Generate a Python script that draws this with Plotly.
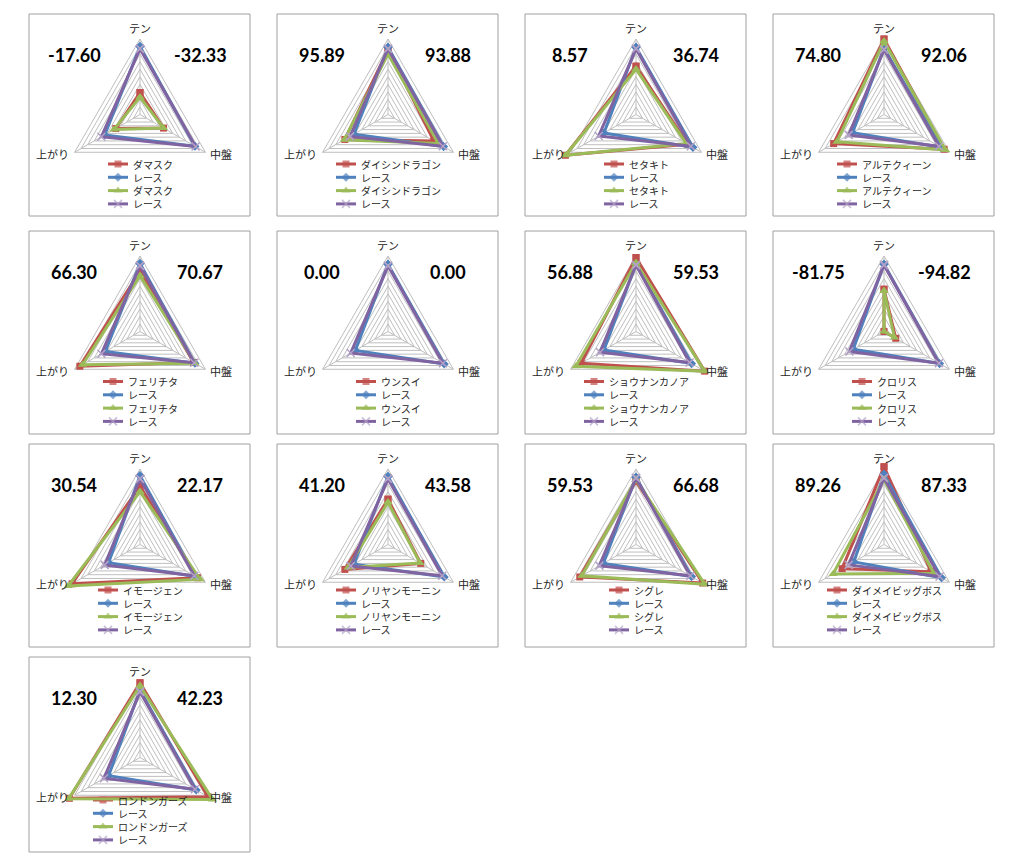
import plotly.graph_objects as go

W, H = 1024, 866

# ---------------- data ----------------
CATEGORIES = ["テン", "中盤", "上がり"]
RACE_LABEL = "レース"
HORSES = ["ダマスク", "ダイシンドラゴン", "セタキト", "アルテクィーン",
          "フェリチタ", "ウンスイ", "ショウナンカノア", "クロリス",
          "イモージェン", "ノリヤンモーニン", "シグレ", "ダイメイビッグボス",
          "ロンドンガーズ"]
LEFT_VALUES = ["-17.60", "95.89", "8.57", "74.80", "66.30", "0.00", "56.88",
               "-81.75", "30.54", "41.20", "59.53", "89.26", "12.30"]
RIGHT_VALUES = ["-32.33", "93.88", "36.74", "92.06", "70.67", "0.00", "59.53",
                "-94.82", "22.17", "43.58", "66.68", "87.33", "42.23"]
# values per panel: [テン, 中盤, 上がり]
HORSE_A = [[29, 36, 37], [86, 70, 66], [64, 79, 108], [100, 92, 77],
           [80, 82, 92], [None, None, None], [98, 105, 84], [56, 18, -17],
           [77, 88, 104], [60, 50, 66], [84, 102, 86], [103, 72, 64],
           [99, 104, 108]]
RACE_A = [[90, 84, 54], [89, 85, 52], [89, 87, 49], [88, 87, 48],
          [90, 84, 53], [89, 86, 50], [89, 85, 49], [89, 85, 47],
          [91, 85, 48], [90, 86, 52], [89, 85, 50], [93, 88, 46],
          [89, 86, 48]]
HORSE_B = [[23, 36, 40], [80, 77, 67], [60, 77, 108], [97, 94, 72],
           [74, 84, 88], [None, None, None], [91, 105, 92], [54, 16, -14],
           [70, 92, 110], [56, 49, 61], [86, 105, 83], [86, 76, 78],
           [95, 111, 109]]
RACE_B = [[87, 85, 59], [87, 84, 58], [87, 84, 57], [86, 84, 54],
          [87, 83, 59], [87, 84, 57], [88, 82, 55], [88, 84, 53],
          [87, 83, 54], [87, 83, 57], [88, 83, 56], [88, 85, 54],
          [87, 84, 55]]

# ---------------- style / layout constants ----------------
AX_MAX = 100
RMAX = 115
R100_PX = 75.5
RD = R100_PX * RMAX / AX_MAX
GRID = "#BFBFBF"
COL_X = [29, 277, 525, 773]
ROW_Y = [14, 231, 444, 657]
BOX_W = 221
BOX_H = [202, 203, 203, 195]
CX_REL, CY_REL = 111, 100.5
LEG_TOP = [150, 150.5, 146, 143]
LEG_STEP = 13.3
LEG_FS = 10
FONT = "Noto Sans CJK JP"

STYLES = [
    dict(color="#C0504D", symbol="square", size=7, mline=0, mcolor="#C0504D"),
    dict(color="#4F81BD", symbol="diamond", size=7, mline=0, mcolor="#4F81BD"),
    dict(color="#9BBB59", symbol="triangle-up", size=8, mline=0, mcolor="#9BBB59"),
    dict(color="#8064A2", symbol="x-thin", size=8, mline=1.5, mcolor="#B3A2C7"),
]

fig = go.Figure()
shapes, annotations = [], []
layout_polars = {}


def px_x(x):
    return x / W


def px_y(y):
    return 1 - y / H


for i, horse in enumerate(HORSES):
    row, col = divmod(i, 4)
    left, top = COL_X[col], ROW_Y[row]
    cx, cy = left + CX_REL, top + CY_REL
    pname = "polar" if i == 0 else f"polar{i + 1}"

    layout_polars[pname] = dict(
        domain=dict(x=[px_x(cx - RD), px_x(cx + RD)],
                    y=[px_y(cy + RD), px_y(cy - RD)]),
        gridshape="linear",
        bgcolor="rgba(0,0,0,0)",
        radialaxis=dict(range=[0, RMAX], tickvals=list(range(10, AX_MAX + 1, 10)),
                        showticklabels=False, ticks="", showline=False,
                        gridcolor=GRID, gridwidth=1),
        angularaxis=dict(type="category", categoryorder="array",
                         categoryarray=CATEGORIES, rotation=90,
                         direction="clockwise", showticklabels=False,
                         ticks="", showline=False, showgrid=False),
    )

    # spokes
    sr, st = [], []
    for c in CATEGORIES:
        sr += [0, AX_MAX, None]
        st += [c, c, c]
    fig.add_trace(go.Scatterpolar(r=sr, theta=st, mode="lines", subplot=pname,
                                  line=dict(color=GRID, width=1),
                                  hoverinfo="skip", showlegend=False))

    series = [(horse, HORSE_A[i]), (RACE_LABEL, RACE_A[i]),
              (horse, HORSE_B[i]), (RACE_LABEL, RACE_B[i])]
    for (name, vals), st_ in zip(series, STYLES):
        r = list(vals) + [vals[0]]
        th = CATEGORIES + [CATEGORIES[0]]
        fig.add_trace(go.Scatterpolar(
            r=r, theta=th, mode="lines+markers", subplot=pname, name=name,
            line=dict(color=st_["color"], width=3),
            marker=dict(symbol=st_["symbol"], size=st_["size"], color=st_["mcolor"],
                        line=dict(width=st_["mline"], color=st_["mcolor"])),
            showlegend=False))

    # frame
    shapes.append(dict(type="rect", xref="paper", yref="paper",
                       x0=px_x(left), x1=px_x(left + BOX_W),
                       y0=px_y(top + BOX_H[row]), y1=px_y(top),
                       line=dict(color="#A0A0A0", width=1), fillcolor="rgba(0,0,0,0)"))

    # big numbers
    for val, rx in ((LEFT_VALUES[i], 45), (RIGHT_VALUES[i], 171)):
        annotations.append(dict(x=px_x(left + rx), y=px_y(top + 41), xref="paper",
                                yref="paper", text=f"<b>{val}</b>", showarrow=False,
                                xanchor="center", yanchor="middle",
                                font=dict(family="Lato", size=18, color="#000")))

    # category labels
    cat_pos = [(cx, cy - 87, "center"), (cx + 68, cy + 39.5, "left"),
               (cx - 69, cy + 39.5, "right")]
    for c, (ax_, ay_, anc) in zip(CATEGORIES, cat_pos):
        annotations.append(dict(x=px_x(ax_), y=px_y(ay_), xref="paper", yref="paper",
                                text=c, showarrow=False, xanchor=anc, yanchor="middle",
                                font=dict(family=FONT, size=11, color="#262626")))

    # manual legend
    tw = max(len(n) for n, _ in series) * LEG_FS
    block = 20 + 4 + tw
    x0 = cx - block / 2
    for j, ((name, _), st_) in enumerate(zip(series, STYLES)):
        y = top + LEG_TOP[row] + j * LEG_STEP
        fig.add_trace(go.Scatter(
            x=[x0, x0 + 10, x0 + 20], y=[y, y, y], mode="lines+markers",
            xaxis="x", yaxis="y",
            line=dict(color=st_["color"], width=3),
            marker=dict(symbol=st_["symbol"], size=[0, st_["size"], 0],
                        color=st_["mcolor"],
                        line=dict(width=st_["mline"], color=st_["mcolor"])),
            hoverinfo="skip", showlegend=False))
        annotations.append(dict(x=px_x(x0 + 23), y=px_y(y), xref="paper", yref="paper",
                                text=name, showarrow=False, xanchor="left",
                                yanchor="middle",
                                font=dict(family=FONT, size=LEG_FS, color="#262626")))

fig.update_layout(
    width=W, height=H, margin=dict(l=0, r=0, t=0, b=0),
    paper_bgcolor="white", plot_bgcolor="rgba(0,0,0,0)",
    showlegend=False, font=dict(family=FONT),
    xaxis=dict(range=[0, W], visible=False, fixedrange=True, domain=[0, 1]),
    yaxis=dict(range=[H, 0], visible=False, fixedrange=True, domain=[0, 1]),
    shapes=shapes, annotations=annotations,
    **layout_polars,
)

fig.write_html("out.html")
